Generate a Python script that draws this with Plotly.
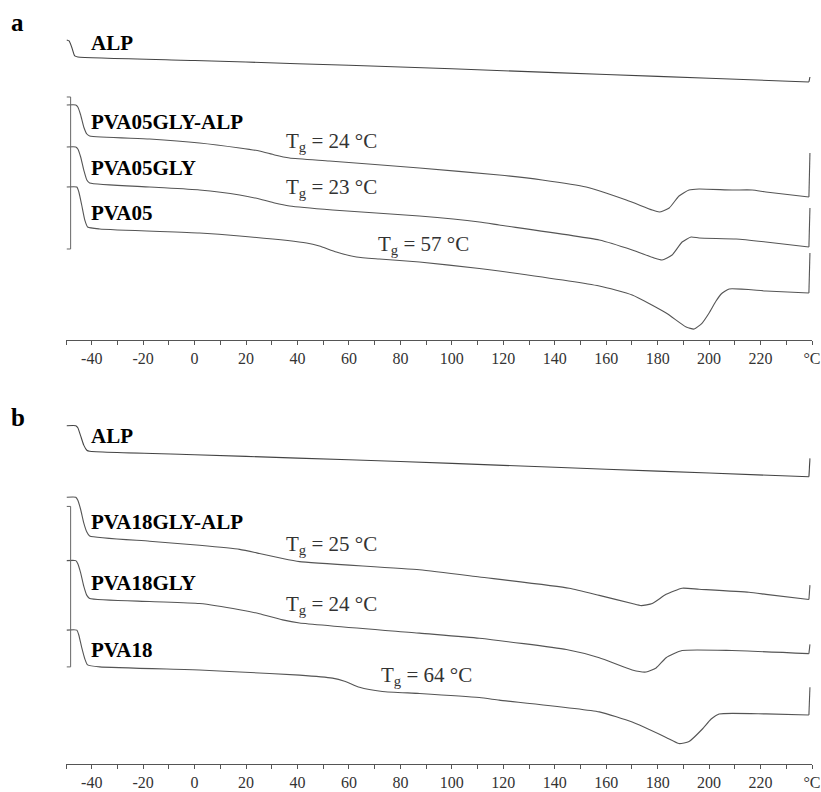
import plotly.graph_objects as go

# ---------------- Panel a (temperature in °C, heat flow in arbitrary units) ----------------
T_ALP_A = [-49.7, -48.8, -47.8, -46.6, -45.4, 0, 40, 80, 120, 160, 200, 238.8, 239.2]
HF_ALP_A = [30.0, 29.9, 29.3, 28.4, 28.3, 27.95, 27.63, 27.3, 26.93, 26.55, 26.17, 25.8, 26.3]

T_PVA05GLYALP = [-49.7, -46.2, -45.4, -44.3, -43.1, -41.9, -40.8, -17.5, 1.9, 17.5, 25.2, 31.1, 36.9,
                 52.4, 87.4, 118.4, 135.1, 152.2, 167.8, 177.9, 180.6, 184.5, 188.3, 192.2, 196.1,
                 208.9, 216.7, 222.1, 238.8, 239.2]
HF_PVA05GLYALP = [23.5, 23.5, 23.3, 22.5, 21.3, 20.6, 20.4, 20.1, 19.7, 19.2, 18.9, 18.5, 18.2,
                  17.9, 17.2, 16.5, 16.0, 15.3, 14.0, 13.0, 12.8, 13.2, 14.4, 15.0, 15.1,
                  15.0, 15.0, 14.8, 14.3, 18.7]

T_PVA05GLY = [-49.7, -46.2, -45.4, -44.3, -43.1, -41.9, -40.8, -17.5, 1.9, 17.5, 25.2, 31.1, 36.9,
              53.6, 87.4, 110.7, 118.4, 157.3, 170.1, 178.6, 181.7, 185.6, 189.5, 193.0, 196.1,
              210.5, 222.1, 238.8, 239.2]
HF_PVA05GLY = [19.3, 19.3, 19.1, 18.3, 17.0, 16.0, 15.7, 15.3, 15.0, 14.5, 14.1, 13.7, 13.4,
               13.0, 12.4, 11.8, 11.5, 10.0, 9.0, 8.2, 8.0, 8.5, 9.8, 10.3, 10.2,
               10.1, 9.8, 9.3, 13.2]

T_PVA05 = [-49.7, -45.8, -45.0, -43.9, -42.7, -41.6, -36.9, 1.9, 17.5, 43.5, 48.5, 55.1, 62.9,
           71.8, 87.4, 110.7, 118.4, 157.3, 170.1, 183.3, 191.1, 194.2, 197.3, 200.0, 202.7,
           204.7, 207.8, 222.1, 238.8, 239.2]
HF_PVA05 = [15.3, 15.3, 14.8, 13.5, 12.0, 11.3, 11.1, 10.7, 10.4, 9.7, 9.4, 8.8, 8.3,
            8.1, 7.8, 7.15, 6.9, 5.4, 4.5, 2.7, 1.3, 1.1, 1.7, 2.7, 3.9,
            4.6, 5.1, 4.9, 4.7, 8.7]

# ---------------- Panel b ----------------
T_ALP_B = [-49.7, -46.2, -45.4, -44.3, -43.1, -41.9, -40.8, 0, 40, 80, 120, 160, 200, 238.8, 239.2]
HF_ALP_B = [33.1, 33.1, 32.9, 32.1, 31.2, 30.7, 30.6, 30.26, 29.93, 29.6, 29.22, 28.84, 28.47, 28.1, 29.9]

T_PVA18GLYALP = [-49.7, -46.2, -45.4, -44.3, -43.1, -41.9, -40.8, -17.5, 1.9, 17.5, 25.2, 34.2, 40.8,
                 87.4, 110.7, 145.6, 157.3, 170.1, 173.6, 177.9, 183.3, 189.5, 196.1, 215.5, 222.1,
                 238.8, 239.2]
HF_PVA18GLYALP = [26.1, 26.1, 25.8, 24.9, 23.6, 22.7, 22.3, 21.8, 21.4, 21.0, 20.6, 20.1, 19.8,
                  19.0, 18.3, 17.2, 16.5, 15.7, 15.5, 15.7, 16.6, 17.2, 17.1, 16.8, 16.6,
                  16.1, 17.5]

T_PVA18GLY = [-49.7, -46.2, -45.4, -44.3, -43.1, -41.9, -40.8, -17.5, 1.9, 17.5, 25.2, 34.2, 40.8,
              87.4, 110.7, 144.5, 157.3, 170.1, 175.5, 179.4, 183.3, 189.5, 208.9, 238.8, 239.2]
HF_PVA18GLY = [19.9, 19.9, 19.6, 18.7, 17.4, 16.5, 16.2, 15.9, 15.7, 15.1, 14.7, 14.1, 13.8,
               12.8, 12.3, 11.2, 10.4, 9.2, 9.0, 9.4, 10.4, 11.1, 11.1, 10.8, 11.7]

T_PVA18 = [-49.7, -45.8, -45.0, -43.9, -42.7, -41.6, -36.9, 1.9, 17.5, 40.8, 53.6, 58.3, 64.1,
           73.0, 87.4, 110.7, 118.4, 157.3, 170.1, 183.3, 188.3, 192.2, 197.3, 200.8, 203.9,
           222.1, 238.8, 239.2]
HF_PVA18 = [13.1, 13.1, 12.6, 11.4, 10.3, 9.7, 9.5, 9.2, 9.0, 8.7, 8.4, 8.1, 7.5,
            7.1, 6.9, 6.5, 6.25, 5.1, 4.1, 2.6, 2.0, 2.2, 3.4, 4.4, 4.9,
            4.9, 4.8, 7.5]

# ---------------- Labels ----------------
SAMPLE_LABELS_A = ["ALP", "PVA05GLY-ALP", "PVA05GLY", "PVA05"]
SAMPLE_LABEL_Y_A = [29.7, 21.8, 17.2, 12.7]
SAMPLE_LABELS_B = ["ALP", "PVA18GLY-ALP", "PVA18GLY", "PVA18"]
SAMPLE_LABEL_Y_B = [32.1, 23.7, 17.7, 11.2]
LABEL_X = -40.9

TG_VALUES_A = [24, 23, 57]
TG_LABEL_X_A = [34.9, 34.9, 70.5]
TG_LABEL_Y_A = [19.8, 15.2, 9.5]
TG_VALUES_B = [25, 24, 64]
TG_LABEL_X_B = [34.9, 34.9, 71.8]
TG_LABEL_Y_B = [21.4, 15.6, 8.6]

# scale bars (x position, top, bottom)
SCALE_A = (-48.2, 24.3, 9.1)
SCALE_B = (-48.2, 25.2, 9.5)

MAJOR_TICKS = list(range(-40, 241, 20))
MAJOR_TEXT = ["°C" if v == 240 else str(v) for v in MAJOR_TICKS]
MINOR_TICKS = list(range(-50, 241, 20))

LINE_COLOR = "#555555"
SERIF = "Liberation Serif, Times New Roman, serif"

fig = go.Figure()

def add_curve(x, y, xa, ya, color=LINE_COLOR):
    # smooth DSC trace up to the end of the heating run
    fig.add_trace(go.Scatter(x=x[:-1], y=y[:-1], mode="lines", xaxis=xa, yaxis=ya,
                             line=dict(color=color, width=1.1, shape="spline", smoothing=0.5),
                             hoverinfo="skip", showlegend=False))
    # sharp end-of-run jump
    fig.add_trace(go.Scatter(x=x[-2:], y=y[-2:], mode="lines", xaxis=xa, yaxis=ya,
                             line=dict(color=color, width=1.1),
                             hoverinfo="skip", showlegend=False))

add_curve(T_ALP_A, HF_ALP_A, "x", "y", "#444444")
add_curve(T_PVA05GLYALP, HF_PVA05GLYALP, "x", "y")
add_curve(T_PVA05GLY, HF_PVA05GLY, "x", "y")
add_curve(T_PVA05, HF_PVA05, "x", "y")
add_curve(T_ALP_B, HF_ALP_B, "x2", "y2", "#444444")
add_curve(T_PVA18GLYALP, HF_PVA18GLYALP, "x2", "y2")
add_curve(T_PVA18GLY, HF_PVA18GLY, "x2", "y2")
add_curve(T_PVA18, HF_PVA18, "x2", "y2")

# scale bars
for (sx, top, bot), xr, yr in [(SCALE_A, "x", "y"), (SCALE_B, "x2", "y2")]:
    fig.add_shape(type="line", x0=sx, x1=sx, y0=top, y1=bot, xref=xr, yref=yr,
                  line=dict(color="#666666", width=1))
    fig.add_shape(type="line", x0=-49.7, x1=sx, y0=top, y1=top, xref=xr, yref=yr,
                  line=dict(color="#666666", width=1))
    fig.add_shape(type="line", x0=-49.7, x1=sx, y0=bot, y1=bot, xref=xr, yref=yr,
                  line=dict(color="#666666", width=1))

for names, ys, xr, yr in [(SAMPLE_LABELS_A, SAMPLE_LABEL_Y_A, "x", "y"),
                          (SAMPLE_LABELS_B, SAMPLE_LABEL_Y_B, "x2", "y2")]:
    for n, yy in zip(names, ys):
        fig.add_annotation(x=LABEL_X, y=yy, xref=xr, yref=yr, text=n,
                           showarrow=False, xanchor="left", yanchor="middle",
                           font=dict(family=SERIF, size=21, color="#000000", weight="bold"))
for vals, xs, ys, xr, yr in [(TG_VALUES_A, TG_LABEL_X_A, TG_LABEL_Y_A, "x", "y"),
                             (TG_VALUES_B, TG_LABEL_X_B, TG_LABEL_Y_B, "x2", "y2")]:
    for v, xx, yy in zip(vals, xs, ys):
        fig.add_annotation(x=xx, y=yy, xref=xr, yref=yr,
                           text="T<sub>g</sub> = %d °C" % v,
                           showarrow=False, xanchor="left", yanchor="middle",
                           font=dict(family=SERIF, size=21, color="#333333"))

fig.add_annotation(x=-0.065, y=0.972, xref="paper", yref="paper", text="a", showarrow=False,
                   xanchor="center", yanchor="middle",
                   font=dict(family=SERIF, size=25, color="#000", weight="bold"))
fig.add_annotation(x=-0.065, y=0.473, xref="paper", yref="paper", text="b", showarrow=False,
                   xanchor="center", yanchor="middle",
                   font=dict(family=SERIF, size=25, color="#000", weight="bold"))

axis_common = dict(range=[-50, 240], tickmode="array", tickvals=MAJOR_TICKS, ticktext=MAJOR_TEXT,
                   showline=True, linecolor="#555555", linewidth=1, ticks="outside", ticklen=4,
                   tickcolor="#555555", showgrid=False, zeroline=False,
                   minor=dict(tickmode="array", tickvals=MINOR_TICKS, ticks="outside", ticklen=4,
                              tickcolor="#555555", showgrid=False),
                   tickfont=dict(family=SERIF, size=16, color="#333333"))
fig.update_layout(
    width=821, height=792,
    margin=dict(l=66, r=9, t=0, b=0),
    paper_bgcolor="white", plot_bgcolor="white",
    xaxis=dict(domain=[0, 1], anchor="y", **axis_common),
    yaxis=dict(domain=[0.5707, 0.9874], range=[0, 33], visible=False),
    xaxis2=dict(domain=[0, 1], anchor="y2", **axis_common),
    yaxis2=dict(domain=[0.03535, 0.5051], range=[0, 36.4], visible=False),
)

fig.write_html("out.html")
